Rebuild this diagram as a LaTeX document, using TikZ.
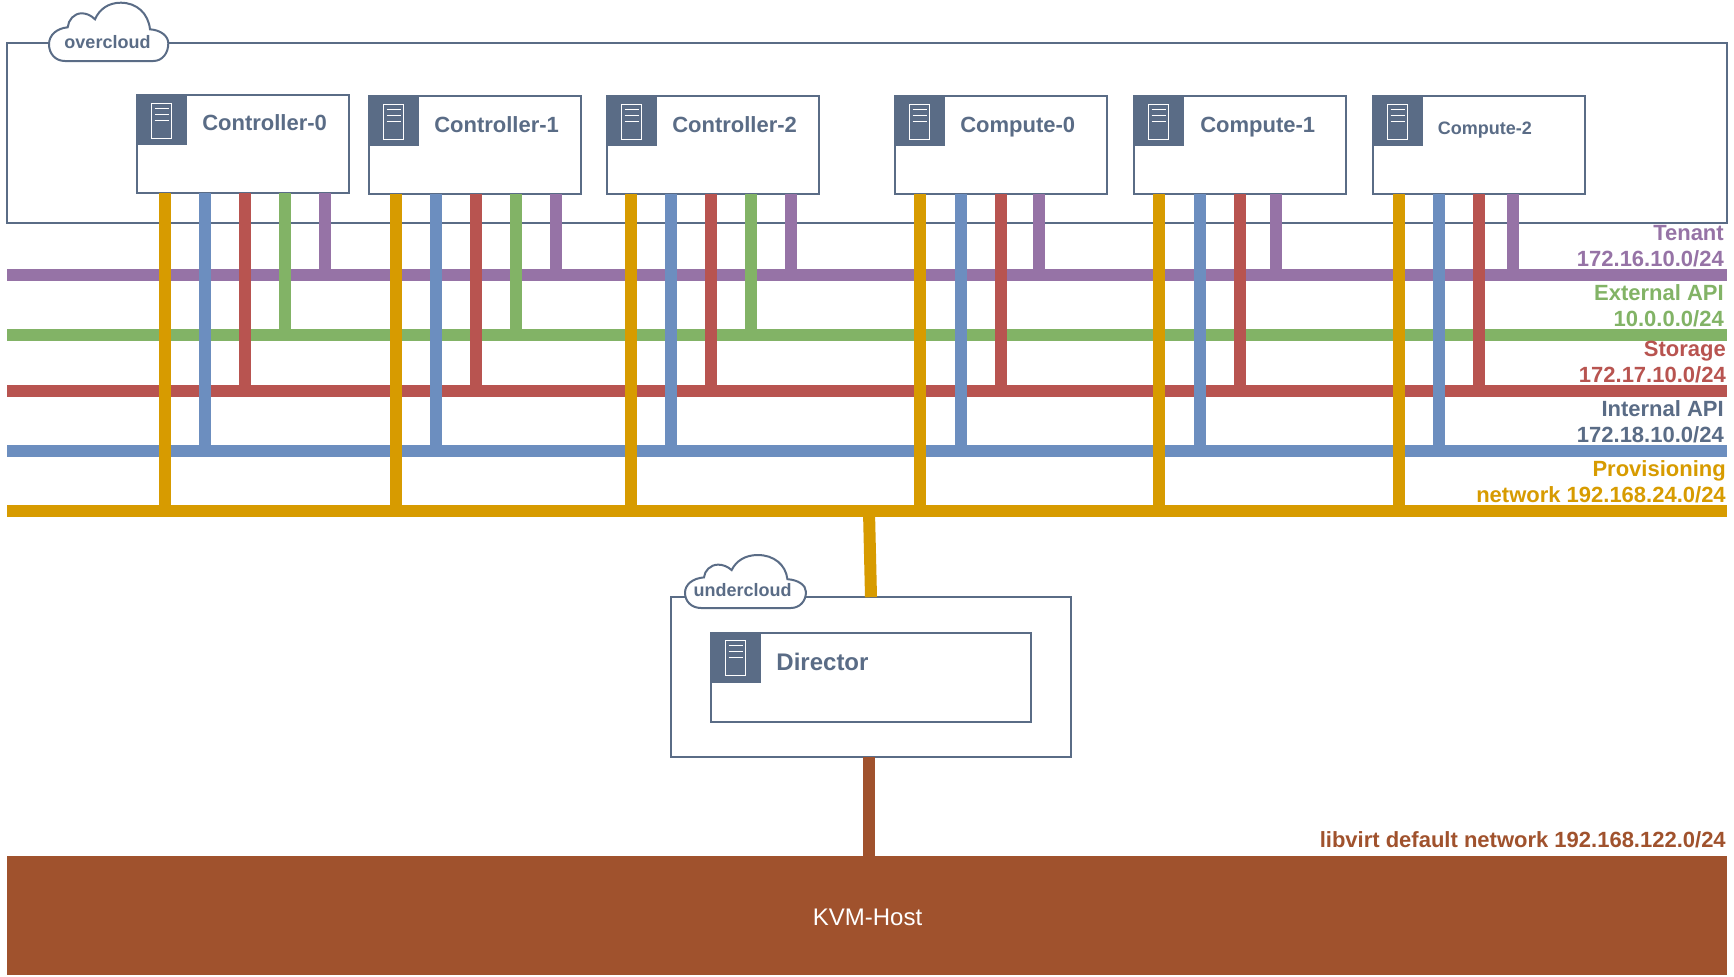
\documentclass[tikz,border=0pt]{standalone}
\usepackage{fontspec}
\setmainfont{Liberation Sans}
\definecolor{slate}{HTML}{5A6C86}
\definecolor{provyellow}{HTML}{D79B00}
\definecolor{internalblue}{HTML}{6C8EBF}
\definecolor{storagered}{HTML}{B85450}
\definecolor{externalgreen}{HTML}{82B366}
\definecolor{tenantpurple}{HTML}{9673A6}
\definecolor{kvmbrown}{HTML}{A0522D}
\tikzset{
  groupbox/.style={draw=slate,line width=1.5pt,fill=white,anchor=north west,inner sep=0pt,outer sep=0pt},
  serverbox/.style={groupbox,minimum width=159.4pt,minimum height=73.5pt},
  bus/.style={rectangle,inner sep=0pt,outer sep=0pt,minimum width=1290pt,minimum height=9pt,anchor=west},
  link/.style={line width=9pt},
  tenantlink/.style={link,draw=tenantpurple},
  externallink/.style={link,draw=externalgreen},
  storagelink/.style={link,draw=storagered},
  internallink/.style={link,draw=internalblue},
  provlink/.style={link,draw=provyellow},
  kvmlink/.style={link,draw=kvmbrown},
  servername/.style={text=slate,anchor=base west,inner sep=0pt,font=\fontsize{16.5}{19.5}\selectfont\bfseries},
  netlabel/.style={anchor=east,align=right,inner sep=0pt,font=\fontsize{16.5}{19.5}\selectfont\bfseries},
  cloudname/.style={text=slate,inner sep=0pt,font=\fontsize{13.5}{16}\selectfont\bfseries},
  servericon/.pic={
    \begin{scope}[yscale=-1]
    \fill [slate] (-1,-1) rectangle (50,50);
    \draw [white,line width=0.75pt] (15,8) rectangle (35,43);
    \draw [white,line width=0.75pt] (18,13) -- (32,13) (18,19) -- (32,19) (18,25) -- (32,25);
    \end{scope}
  },
  cloudshape/.pic={
    \begin{scope}[yscale=-1]
    \draw [slate,line width=1.5pt,fill=white] (16,58.3) -- (104.3,58.3)
      .. controls (113.3,58.3) and (119.3,50.6) .. (119.3,40.6)
      .. controls (119.3,33.3) and (111.7,27.3) .. (101,26.6)
      .. controls (99.3,10.6) and (87.7,0) .. (71.7,0)
      .. controls (59.3,0) and (50.3,6.6) .. (46,16.6)
      .. controls (41.7,12.3) and (37,10.6) .. (32.7,10.6)
      .. controls (25,10.6) and (19.3,17.3) .. (18.7,24.6)
      .. controls (7.7,25.6) and (0,32.3) .. (0,41.6)
      .. controls (0,50.6) and (6,58.3) .. (16,58.3) -- cycle ;
    \end{scope}
  },
}

\begin{document}
\begin{tikzpicture}[x=0.75pt,y=0.75pt,yscale=-1,xscale=1]
\useasboundingbox (0,0) rectangle (1734,976);

%overcloud group
\node [groupbox,minimum width=1290pt,minimum height=135pt] (overcloud) at (7,43) {};
\pic at (49,2.7) {cloudshape};
\node [cloudname] (overcloudname) at (107.5,42) {overcloud};

%servers
\node [serverbox] (c0) at (136.7,95) {};
\pic at (c0.north west) {servericon};
\node [servername] (c0name) at (202,130.5) {Controller-0};
\node [serverbox] (c1) at (368.7,96) {};
\pic at (c1.north west) {servericon};
\node [servername] (c1name) at (434,132) {Controller-1};
\node [serverbox] (c2) at (606.7,96) {};
\pic at (c2.north west) {servericon};
\node [servername] (c2name) at (672,132) {Controller-2};
\node [serverbox] (n0) at (894.7,96) {};
\pic at (n0.north west) {servericon};
\node [servername] (n0name) at (960,132) {Compute-0};
\node [serverbox] (n1) at (1133.7,96) {};
\pic at (n1.north west) {servericon};
\node [servername] (n1name) at (1200,132) {Compute-1};
\node [serverbox] (n2) at (1372.7,96) {};
\pic at (n2.north west) {servericon};
\node [servername,font=\fontsize{13.5}{16}\selectfont\bfseries] (n2name) at (1437.7,134) {Compute-2};

%tenant network
\node [bus,fill=tenantpurple] (tenant) at (7,275.4) {};
\draw [tenantlink] (c0.south -| 325,0) -- (tenant -| 325,0);
\draw [tenantlink] (c1.south -| 556,0) -- (tenant -| 556,0);
\draw [tenantlink] (c2.south -| 791,0) -- (tenant -| 791,0);
\draw [tenantlink] (n0.south -| 1039,0) -- (tenant -| 1039,0);
\draw [tenantlink] (n1.south -| 1276,0) -- (tenant -| 1276,0);
\draw [tenantlink] (n2.south -| 1513,0) -- (tenant -| 1513,0);

%external api network
\node [bus,fill=externalgreen] (external) at (7,335.4) {};
\draw [externallink] (c0.south -| 285,0) -- (external -| 285,0);
\draw [externallink] (c1.south -| 516,0) -- (external -| 516,0);
\draw [externallink] (c2.south -| 751,0) -- (external -| 751,0);

%storage network
\node [bus,fill=storagered] (storage) at (7,391.4) {};
\draw [storagelink] (c0.south -| 245,0) -- (storage -| 245,0);
\draw [storagelink] (c1.south -| 476,0) -- (storage -| 476,0);
\draw [storagelink] (c2.south -| 711,0) -- (storage -| 711,0);
\draw [storagelink] (n0.south -| 1001,0) -- (storage -| 1001,0);
\draw [storagelink] (n1.south -| 1240,0) -- (storage -| 1240,0);
\draw [storagelink] (n2.south -| 1479,0) -- (storage -| 1479,0);

%internal api network
\node [bus,fill=internalblue] (internal) at (7,451.4) {};
\draw [internallink] (c0.south -| 205,0) -- (internal -| 205,0);
\draw [internallink] (c1.south -| 436,0) -- (internal -| 436,0);
\draw [internallink] (c2.south -| 671,0) -- (internal -| 671,0);
\draw [internallink] (n0.south -| 961,0) -- (internal -| 961,0);
\draw [internallink] (n1.south -| 1200,0) -- (internal -| 1200,0);
\draw [internallink] (n2.south -| 1439,0) -- (internal -| 1439,0);

%provisioning network
\node [bus,fill=provyellow] (prov) at (7,511.4) {};
\draw [provlink] (c0.south -| 164.5,0) -- (prov -| 164.5,0);
\draw [provlink] (c1.south -| 395.5,0) -- (prov -| 395.5,0);
\draw [provlink] (c2.south -| 630.5,0) -- (prov -| 630.5,0);
\draw [provlink] (n0.south -| 920,0) -- (prov -| 920,0);
\draw [provlink] (n1.south -| 1159,0) -- (prov -| 1159,0);
\draw [provlink] (n2.south -| 1398.5,0) -- (prov -| 1398.5,0);

%undercloud group
\node [groupbox,minimum width=300.5pt,minimum height=120pt] (undercloud) at (670.7,597.2) {};
\pic [xscale=1.014,yscale=0.909] at (685,555) {cloudshape};
\node [cloudname] (undercloudname) at (742.7,590.3) {undercloud};
\node [groupbox,minimum width=240pt,minimum height=67pt] (director) at (710.7,632.7) {};
\pic at (director.north west) {servericon};
\node [servername,font=\fontsize{18}{21}\selectfont\bfseries] (directorname) at (776.2,670.5) {Director};
\draw [provlink] (prov -| 869,0) -- (undercloud.north -| 871,0);

%kvm host
\node [rectangle,fill=kvmbrown,inner sep=0pt,outer sep=0pt,minimum width=1290pt,minimum height=89.25pt,anchor=north west] (kvm) at (7,856) {};
\node [text=white,inner sep=0pt,font=\fontsize{18}{21}\selectfont] (kvmname) at (867.5,917) {KVM-Host};
\draw [kvmlink] (undercloud.south -| 869,0) -- (kvm.north -| 869,0);

%network labels
\node [netlabel,text=tenantpurple] (tenantname) at (1724,246.2) {Tenant\\172.16.10.0/24};
\node [netlabel,text=externalgreen] (externalname) at (1724,306) {External API\\10.0.0.0/24};
\node [netlabel,text=storagered] (storagename) at (1726,362.5) {Storage\\172.17.10.0/24};
\node [netlabel,text=slate] (internalname) at (1724,422) {Internal API\\172.18.10.0/24};
\node [netlabel,text=provyellow] (provname) at (1726,482) {Provisioning\\network 192.168.24.0/24};
\node [netlabel,text=kvmbrown] (libvirtname) at (1726,840) {libvirt default network 192.168.122.0/24};

\end{tikzpicture}
\end{document}
